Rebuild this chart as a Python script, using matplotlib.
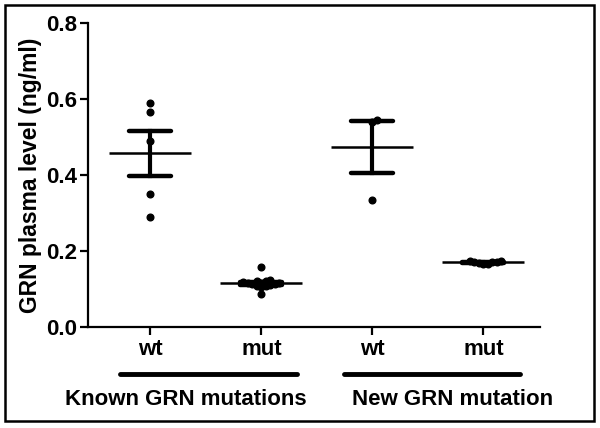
import numpy as np
import matplotlib.pyplot as plt
from matplotlib.patches import Rectangle

plt.rcParams['font.family'] = ['Liberation Sans', 'DejaVu Sans']
plt.rcParams['font.weight'] = 'bold'

# values (ng/ml)
tick_labels = ["wt", "mut", "wt", "mut"]
known_wt = [0.590, 0.565, 0.490, 0.350, 0.290]
known_mut = [0.157, 0.087, 0.105, 0.108, 0.110, 0.112, 0.113, 0.115,
             0.116, 0.117, 0.118, 0.120, 0.122, 0.124, 0.108]
new_wt = [0.545, 0.540, 0.335]
new_mut = [0.165, 0.168, 0.170, 0.172, 0.175, 0.167, 0.173, 0.170]
groups = [known_wt, known_mut, new_wt, new_mut]
group_names = ["Known GRN mutations", "New GRN mutation"]


def swarm(vals, dot_y, dot_x):
    # simple beeswarm: push a dot sideways until it clears the ones already placed
    placed = []
    offs = np.zeros(len(vals))
    order = np.argsort(vals)
    for i in order:
        y = vals[i]
        cands = [0.0]
        for k in range(1, 30):
            cands += [k * dot_x * 0.5, -k * dot_x * 0.5]
        for c in cands:
            ok = True
            for (px, py) in placed:
                if ((c - px) / dot_x) ** 2 + ((y - py) / dot_y) ** 2 < 1.0:
                    ok = False
                    break
            if ok:
                offs[i] = c
                placed.append((c, y))
                break
    return offs


fig = plt.figure(figsize=(6, 4.28), dpi=100)
ax = fig.add_axes([0.147, 0.236, 0.753, 0.71])

ax.set_xlim(-0.56, 3.51)
ax.set_ylim(0, 0.8)

# spacing between dots in data units (dots overlap like in the original)
dot_y = 0.8 / 304 * 4.5
dot_x = 4.07 / 452 * 4.5

for i, vals in enumerate(groups):
    v = np.array(vals)
    xs = i + swarm(v, dot_y, dot_x)
    ax.plot(xs, v, 'o', color='black', markersize=4.8, zorder=3)
    m = v.mean()
    sem = v.std(ddof=1) / np.sqrt(len(v))
    ax.plot([i - 0.37, i + 0.37], [m, m], color='black', lw=1.8, zorder=4,
            solid_capstyle='butt')
    ax.plot([i, i], [m - sem, m + sem], color='black', lw=3, zorder=4)
    for e in (m - sem, m + sem):
        ax.plot([i - 0.19, i + 0.19], [e, e], color='black', lw=3.2, zorder=4,
                solid_capstyle='round')

ax.spines['top'].set_visible(False)
ax.spines['right'].set_visible(False)
ax.spines['left'].set_linewidth(1.6)
ax.spines['bottom'].set_linewidth(1.6)

ax.set_yticks([0.0, 0.2, 0.4, 0.6, 0.8])
ax.set_yticklabels(["0.0", "0.2", "0.4", "0.6", "0.8"])
ax.set_xticks(range(4))
ax.set_xticklabels(tick_labels)
ax.tick_params(axis='both', width=1.6, length=6, labelsize=16, pad=2)
ax.tick_params(axis='x', pad=3)
ax.set_ylabel("GRN plasma level (ng/ml)", fontsize=16.5, fontweight='bold', labelpad=3)

# group bars and names under the axis
bar_spans = [(-0.27, 1.32), (1.74, 3.33)]
name_x = [0.32, 2.72]
for (a, b), nx, name in zip(bar_spans, name_x, group_names):
    ax.plot([a, b], [-0.125, -0.125], color='black', lw=3.5, clip_on=False,
            solid_capstyle='round')
    ax.text(nx, -0.19, name, ha='center', va='center', fontsize=16,
            fontweight='bold', clip_on=False)

# frame around the whole figure
fig.patches.append(Rectangle((5 / 600, 7 / 428), 589 / 600, 416 / 428,
                             transform=fig.transFigure, fill=False,
                             edgecolor='black', lw=1.8))

fig.savefig("out.png", dpi=100)
